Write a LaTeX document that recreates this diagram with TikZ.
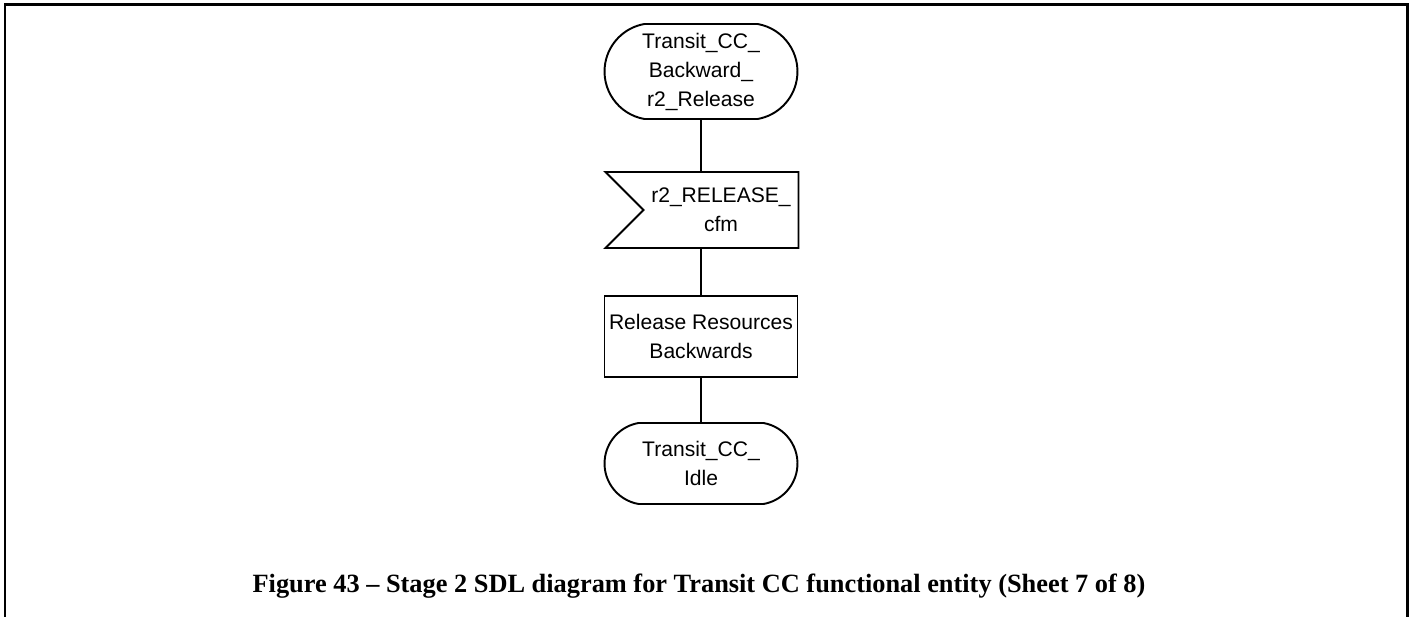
\documentclass[tikz,border=0pt]{standalone}
\usepackage{fontspec}
\setmainfont{Liberation Serif}
\setsansfont{Liberation Sans}
\usepackage{tikz}
\usetikzlibrary{shapes.misc, shapes.symbols, positioning}

\tikzset{
    sdltext/.style={font=\sffamily\fontsize{12}{16.5}\selectfont, align=center, line width=1.1pt, inner sep=0pt},
    state/.style={sdltext, draw, rounded rectangle, rounded rectangle arc length=160, minimum width=3.86cm},
    inputsig/.style={sdltext, draw, signal, signal from=west, signal to=nowhere, signal pointer angle=90, minimum width=3.86cm, minimum height=1.52cm},
    task/.style={sdltext, draw, rectangle, minimum width=3.86cm, minimum height=1.62cm},
    flow/.style={line width=1.1pt}
}

\begin{document}
\begin{tikzpicture}[x=0.02cm, y=-0.02cm]
    \useasboundingbox (0,0) rectangle (1414,617);
    % 1. Khung
    \draw[line width=1.4pt] (5,617) -- (5,4.5) -- (1407.5,4.5) -- (1407.5,617);

    % 2. Các khối SDL
    \node[state, minimum height=1.9cm] (start) at (701,71.5) {Transit\_CC\_\\Backward\_\\r2\_Release};
    \node[inputsig] (cfm) at (721,210) {r2\_RELEASE\_\\cfm};
    \node[task] (rel) at (701,336.5) {Release Resources\\Backwards};
    \node[state, minimum height=1.62cm] (idle) at (701,463.5) {Transit\_CC\_\\Idle};

    % 3. Đường nối
    \draw[flow] (start) -- (start |- cfm.north);
    \draw[flow] (start |- cfm.south) -- (rel);
    \draw[flow] (rel) -- (idle);

    % 4. Chú thích
    \node[anchor=base, font=\bfseries\fontsize{15}{18}\selectfont] (cap) at (699,593)
        {Figure 43 -- Stage 2 SDL diagram for Transit CC functional entity (Sheet 7 of 8)};
\end{tikzpicture}
\end{document}
